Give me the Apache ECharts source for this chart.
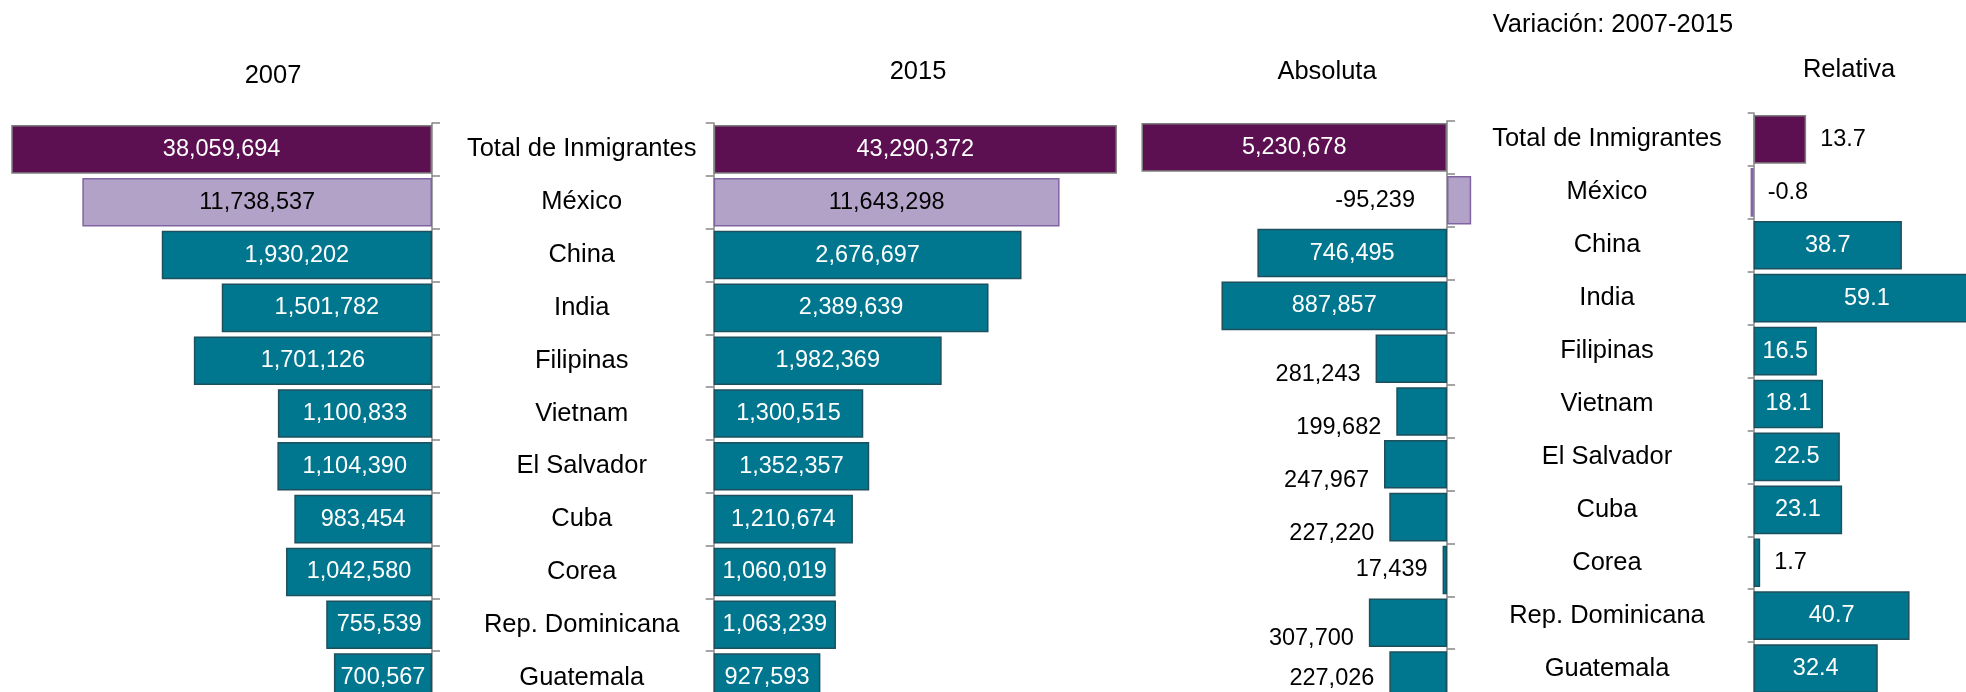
<!DOCTYPE html>
<html>
<head>
<meta charset="utf-8">
<script src="https://cdn.jsdelivr.net/npm/echarts@6/dist/echarts.min.js"></script>
<style>
  html, body { margin: 0; padding: 0; background: #fff; }
  #chart { width: 1966px; height: 692px; }
</style>
</head>
<body>
<div id="chart"></div>
<script>
const categories = [
  "Total de Inmigrantes", "México", "China", "India", "Filipinas", "Vietnam",
  "El Salvador", "Cuba", "Corea", "Rep. Dominicana", "Guatemala",
];
const pop2007 = [38059694, 11738537, 1930202, 1501782, 1701126, 1100833, 1104390, 983454, 1042580, 755539, 700567];
const pop2015 = [43290372, 11643298, 2676697, 2389639, 1982369, 1300515, 1352357, 1210674, 1060019, 1063239, 927593];
const varAbs = [5230678, -95239, 746495, 887857, 281243, 199682, 247967, 227220, 17439, 307700, 227026];
const varRel = [13.7, -0.8, 38.7, 59.1, 16.5, 18.1, 22.5, 23.1, 1.7, 40.7, 32.4];
const panelTitles = ["2007", "2015", "Absoluta", "Relativa"];
const headerTitle = "Variación: 2007-2015";

const FONT = "'Liberation Sans', Arial, sans-serif";
const PURPLE = "#5C1052";
const LILAC = "#B3A2C7";
const TEAL = "#00778F";
const AXIS = "#868686";
const NUM_SIZE = 23.5;
const TEXT_SIZE = 25.5;

const fmtInt = (v) => Number(v).toLocaleString("en-US");
const fmtPct = (v) => Number(v).toFixed(1);

// fill + border: total row, México row, the rest
const rowStyle = (i) => {
  if (i === 0) return { color: PURPLE, borderColor: "#7F7F7F", borderWidth: 1.5 };
  if (i === 1) return { color: LILAC, borderColor: "#8064A2", borderWidth: 1.5 };
  return { color: TEAL, borderColor: "#1D4F5C", borderWidth: 1.5 };
};

const insideLabel = (i, fmt) => ({
  show: true,
  position: "inside",
  fontSize: NUM_SIZE,
  fontFamily: FONT,
  color: i === 1 ? "#000" : "#fff",
  formatter: (p) => fmt(p.value),
});

const outsideLabel = (fmt, position, distance, offset) => ({
  show: true,
  position,
  distance,
  offset,
  fontSize: NUM_SIZE,
  fontFamily: FONT,
  color: "#000",
  formatter: (p) => fmt(p.value),
});

const items = (values, keep, labelFor) =>
  values.map((v, i) =>
    keep(i) ? { value: v, itemStyle: rowStyle(i), label: labelFor(v, i) } : "-",
  );

// small absolute changes get their number outside, below-left of the bar
const absLabel = (v, i) => {
  if (Math.abs(v) >= 500000) return insideLabel(i, fmtInt);
  if (v < 0) return outsideLabel(fmtInt, "left", 32, [0, 0]);
  let dy = Math.abs(v) < 100000 ? 0 : 16;
  if (i === categories.length - 1) dy = 3; // last row sits at the cut-off edge
  return outsideLabel(fmtInt, "left", 15, [0, dy]);
};

const relLabel = (v, i) =>
  Math.abs(v) >= 15 ? insideLabel(i, fmtPct) : outsideLabel(fmtPct, "right", 14, [0, 0]);

const hiddenX = (gridIndex, min, max, inverse) => ({
  type: "value", gridIndex, min, max, inverse, show: false,
  splitLine: { show: false },
});

const catY = (gridIndex, position, onZero, tickLen, label) => ({
  type: "category",
  gridIndex,
  data: categories,
  inverse: true,
  position,
  axisLine: { show: true, onZero, lineStyle: { color: AXIS, width: 1.5 } },
  axisTick: { show: true, length: tickLen, lineStyle: { color: AXIS, width: 1.5 } },
  axisLabel: label || { show: false },
  splitLine: { show: false },
});

const colLabel = (margin) => ({
  show: true,
  align: "center",
  margin,
  fontSize: TEXT_SIZE,
  fontFamily: FONT,
  color: "#000",
});

const barBase = { type: "bar", barGap: "-100%", barCategoryGap: "8%", animation: false };

const titleText = (text, x, y) => ({
  type: "text",
  x,
  y,
  style: {
    text,
    align: "center",
    verticalAlign: "middle",
    fontSize: TEXT_SIZE,
    fontFamily: FONT,
    fill: "#000",
  },
});

// grids run past the bottom / right edge like the cropped original
const panelGrid = (left, top, width, height) => ({
  left, top, width, height, outerBoundsMode: "none", containLabel: false,
});

const chart = echarts.init(document.getElementById("chart"));
chart.setOption({
  backgroundColor: "#fff",
  animation: false,
  grid: [
    panelGrid(12, 123, 420, 581),
    panelGrid(713.7, 123, 402.5, 581),
    panelGrid(1142.2, 121, 330.2, 581),
    panelGrid(1746, 113, 237.5, 582),
  ],
  xAxis: [
    hiddenX(0, 0, 3000000, true),
    hiddenX(0, 0, 14100000, true),
    hiddenX(1, 0, 3500000, false),
    hiddenX(1, 0, 13550000, false),
    hiddenX(2, -100000, 1200000, true),
    hiddenX(3, -2, 60, false),
  ],
  yAxis: [
    catY(0, "right", false, 8),
    catY(1, "left", false, 8, colLabel(132)),
    catY(2, "right", true, 8),
    catY(3, "left", true, 6, colLabel(139)),
  ],
  graphic: [
    titleText(panelTitles[0], 273, 76),
    titleText(panelTitles[1], 918, 72),
    titleText(panelTitles[2], 1327, 72),
    titleText(panelTitles[3], 1849, 70),
    titleText(headerTitle, 1613, 25),
  ],
  series: [
    {
      ...barBase, xAxisIndex: 0, yAxisIndex: 0,
      data: items(pop2007, (i) => i !== 1, (v, i) => insideLabel(i, fmtInt)),
    },
    {
      ...barBase, xAxisIndex: 1, yAxisIndex: 0,
      data: items(pop2007, (i) => i === 1, (v, i) => insideLabel(i, fmtInt)),
    },
    {
      ...barBase, xAxisIndex: 2, yAxisIndex: 1,
      data: items(pop2015, (i) => i !== 1, (v, i) => insideLabel(i, fmtInt)),
    },
    {
      ...barBase, xAxisIndex: 3, yAxisIndex: 1,
      data: items(pop2015, (i) => i === 1, (v, i) => insideLabel(i, fmtInt)),
    },
    {
      ...barBase, xAxisIndex: 4, yAxisIndex: 2,
      data: items(varAbs, () => true, absLabel),
    },
    {
      ...barBase, xAxisIndex: 5, yAxisIndex: 3,
      data: items(varRel, () => true, relLabel),
    },
  ],
});
</script>
</body>
</html>
